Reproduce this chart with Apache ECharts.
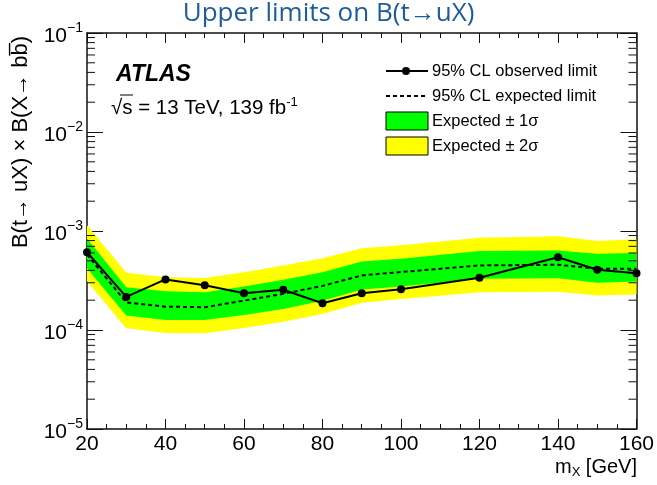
<!DOCTYPE html>
<html>
<head>
<meta charset="utf-8">
<script src="https://cdn.jsdelivr.net/npm/echarts@6/dist/echarts.min.js"></script>
<style>
  html, body { margin: 0; padding: 0; background: #fff; }
  #chart { width: 657px; height: 485px; }
</style>
</head>
<body>
<div id="chart"></div>
<script>
// Mass points (GeV)
const masses = [20, 30, 40, 50, 60, 70, 80, 90, 100, 120, 140, 150, 160];
// 95% CL observed limit
const observed = [6.1e-4, 2.16e-4, 3.24e-4, 2.83e-4, 2.35e-4, 2.55e-4, 1.86e-4, 2.35e-4, 2.58e-4, 3.37e-4, 5.44e-4, 4.06e-4, 3.75e-4];
// 95% CL expected limit
const expected = [5.8e-4, 1.9e-4, 1.72e-4, 1.70e-4, 1.98e-4, 2.32e-4, 2.79e-4, 3.56e-4, 3.85e-4, 4.49e-4, 4.56e-4, 4.16e-4, 4.16e-4];
// Expected +/- 1 sigma band
const plus1 = [8.4e-4, 2.70e-4, 2.46e-4, 2.40e-4, 2.75e-4, 3.21e-4, 3.84e-4, 4.93e-4, 5.25e-4, 6.27e-4, 6.37e-4, 5.90e-4, 5.98e-4];
const minus1 = [4.2e-4, 1.40e-4, 1.26e-4, 1.26e-4, 1.42e-4, 1.63e-4, 1.98e-4, 2.56e-4, 2.75e-4, 3.29e-4, 3.34e-4, 3.00e-4, 3.09e-4];
// Expected +/- 2 sigma band
const plus2 = [1.14e-3, 3.79e-4, 3.41e-4, 3.36e-4, 3.84e-4, 4.49e-4, 5.32e-4, 6.68e-4, 7.17e-4, 8.57e-4, 8.83e-4, 7.92e-4, 8.24e-4];
const minus2 = [3.1e-4, 1.04e-4, 9.33e-5, 9.25e-5, 1.05e-4, 1.21e-4, 1.45e-4, 1.89e-4, 2.06e-4, 2.40e-4, 2.44e-4, 2.23e-4, 2.28e-4];

// Axis ranges and ticks
const xMin = 20, xMax = 160, xStep = 20;
const yMin = 1e-5, yMax = 1e-1;
const yMinorTicks = [];
for (let e = -5; e < -1; e++) {
  for (let m = 2; m <= 9; m++) yMinorTicks.push(m * Math.pow(10, e));
}

const FONT = '"Liberation Sans", Arial, Helvetica, sans-serif';
const AXIS_COLOR = '#111';

const chart = echarts.init(document.getElementById('chart'), null, { renderer: 'canvas' });

function bandItem(upper, lower, color) {
  return function (params, api) {
    if (params.dataIndex !== 0) return null;
    const pts = [];
    for (let i = 0; i < masses.length; i++) pts.push(api.coord([masses[i], upper[i]]));
    for (let i = masses.length - 1; i >= 0; i--) pts.push(api.coord([masses[i], lower[i]]));
    return {
      type: 'polygon',
      shape: { points: pts },
      style: { fill: color, stroke: null }
    };
  };
}

function supExp(v) {
  const e = Math.round(Math.log10(v));
  return '{b|10}{s|' + (e < 0 ? '\u2212' + (-e) : e) + '}';
}

const yLabelRich = {
  b: { fontFamily: FONT, fontSize: 21, color: '#000', padding: [6, 0, 0, 0] },
  s: { fontFamily: FONT, fontSize: 14, color: '#000', padding: [0, 0, 9, 0] }
};

const option = {
  animation: false,
  backgroundColor: '#fff',
  grid: { left: 87, right: 20, top: 33, bottom: 56, containLabel: false, show: false },
  xAxis: [
    {
      type: 'value', min: xMin, max: xMax, interval: xStep, position: 'bottom',
      axisLine: { show: true, lineStyle: { color: AXIS_COLOR, width: 1.5 } },
      axisTick: { show: true, inside: true, length: 10, lineStyle: { color: AXIS_COLOR, width: 1 } },
      minorTick: { show: true, splitNumber: 4, length: 5, lineStyle: { color: AXIS_COLOR, width: 1 } },
      splitLine: { show: false },
      axisLabel: { fontFamily: FONT, fontSize: 21, color: '#000', margin: 5 }
    },
    {
      type: 'value', min: xMin, max: xMax, interval: xStep, position: 'top',
      axisLine: { show: true, lineStyle: { color: AXIS_COLOR, width: 1.5 } },
      axisTick: { show: true, inside: true, length: 10, lineStyle: { color: AXIS_COLOR, width: 1 } },
      minorTick: { show: true, splitNumber: 4, length: 5, lineStyle: { color: AXIS_COLOR, width: 1 } },
      splitLine: { show: false },
      axisLabel: { show: false }
    }
  ],
  yAxis: [
    {
      type: 'log', logBase: 10, min: yMin, max: yMax, position: 'left',
      axisLine: { show: true, lineStyle: { color: AXIS_COLOR, width: 1.5 } },
      axisTick: { show: true, inside: true, length: 16, lineStyle: { color: AXIS_COLOR, width: 1 } },
      splitLine: { show: false },
      axisLabel: { formatter: supExp, rich: yLabelRich, margin: 4 }
    },
    {
      type: 'log', logBase: 10, min: yMin, max: yMax, position: 'right',
      axisLine: { show: true, lineStyle: { color: AXIS_COLOR, width: 1.5 } },
      axisTick: { show: true, inside: true, length: 16, lineStyle: { color: AXIS_COLOR, width: 1 } },
      splitLine: { show: false },
      axisLabel: { show: false }
    }
  ],
  series: [
    {
      name: 'Expected \u00b1 2\u03c3', type: 'custom', z: 1,
      renderItem: bandItem(plus2, minus2, '#ffff00'),
      data: masses.map((m, i) => [m, minus2[i], plus2[i]]),
      encode: { x: 0, y: [1, 2] }, silent: true
    },
    {
      name: 'Expected \u00b1 1\u03c3', type: 'custom', z: 2,
      renderItem: bandItem(plus1, minus1, '#00ff00'),
      data: masses.map((m, i) => [m, minus1[i], plus1[i]]),
      encode: { x: 0, y: [1, 2] }, silent: true
    },
    {
      // minor ticks of the log axis at 2..9 x 10^n, on both vertical frame edges
      name: 'yMinor', type: 'custom', z: 5, silent: true,
      renderItem: function (params, api) {
        const cs = params.coordSys;
        const y = api.coord([xMin, api.value(0)])[1];
        const len = 8;
        return {
          type: 'group',
          children: [
            { type: 'line', shape: { x1: cs.x, y1: y, x2: cs.x + len, y2: y }, style: { stroke: AXIS_COLOR, lineWidth: 1 } },
            { type: 'line', shape: { x1: cs.x + cs.width - len, y1: y, x2: cs.x + cs.width, y2: y }, style: { stroke: AXIS_COLOR, lineWidth: 1 } }
          ]
        };
      },
      data: yMinorTicks.map(v => [v]),
      encode: { y: 0 }
    },
    {
      name: '95% CL expected limit', type: 'line', z: 3,
      data: masses.map((m, i) => [m, expected[i]]),
      showSymbol: false, symbol: 'none',
      lineStyle: { color: '#000', width: 2, type: [4, 3] }
    },
    {
      name: '95% CL observed limit', type: 'line', z: 4,
      data: masses.map((m, i) => [m, observed[i]]),
      symbol: 'circle', symbolSize: 8,
      itemStyle: { color: '#000' },
      lineStyle: { color: '#000', width: 2 }
    }
  ],
  graphic: [
    {
      type: 'text', left: 'center', top: 1,
      style: { text: 'Upper limits on B(t\u2192uX)', font: '400 26px "Open Sans", sans-serif', fill: '#1d5c9c' }
    },
    {
      type: 'text', x: 21, y: 36, rotation: Math.PI / 2,
      style: {
        text: 'B(t\u2192 uX) \u00d7 B(X\u2192 bb\u0305)', font: '22px ' + FONT, fill: '#000',
        align: 'right', verticalAlign: 'middle'
      }
    },
    {
      type: 'text', x: 637, y: 467,
      style: {
        text: '{m|m}{sub|X}{m| [GeV]}', align: 'right', verticalAlign: 'middle',
        rich: {
          m: { fontFamily: FONT, fontSize: 20, fill: '#000' },
          sub: { fontFamily: FONT, fontSize: 13, fill: '#000', padding: [10, 0, 0, 0] }
        }
      }
    },
    {
      type: 'text', x: 116, y: 75,
      style: { text: 'ATLAS', font: 'italic bold 23px ' + FONT, fill: '#000', verticalAlign: 'middle' }
    },
    {
      type: 'text', x: 111, y: 106,
      style: {
        text: '{t|\u221As = 13 TeV, 139 fb}{s|-1}', verticalAlign: 'middle',
        rich: {
          t: { fontFamily: FONT, fontSize: 20.5, fill: '#000', padding: [5, 0, 0, 0] },
          s: { fontFamily: FONT, fontSize: 13, fill: '#000', padding: [0, 0, 8, 0] }
        }
      }
    },
    // overline of the square root
    { type: 'line', shape: { x1: 120, y1: 95, x2: 133, y2: 95 }, style: { stroke: '#000', lineWidth: 1 } },
    // legend
    { type: 'line', shape: { x1: 386, y1: 71, x2: 428, y2: 71 }, style: { stroke: '#000', lineWidth: 2 } },
    { type: 'circle', shape: { cx: 406, cy: 71, r: 4 }, style: { fill: '#000' } },
    { type: 'text', x: 432, y: 71, style: { text: '95% CL observed limit', font: '16.5px ' + FONT, fill: '#000', verticalAlign: 'middle' } },
    { type: 'line', shape: { x1: 386, y1: 96, x2: 428, y2: 96 }, style: { stroke: '#000', lineWidth: 2, lineDash: [4, 3] } },
    { type: 'text', x: 432, y: 96, style: { text: '95% CL expected limit', font: '16.5px ' + FONT, fill: '#000', verticalAlign: 'middle' } },
    { type: 'rect', shape: { x: 386, y: 112, width: 42, height: 18 }, style: { fill: '#00ff00', stroke: '#000', lineWidth: 1 } },
    { type: 'text', x: 432, y: 121, style: { text: 'Expected \u00b1 1\u03c3', font: '16.5px ' + FONT, fill: '#000', verticalAlign: 'middle' } },
    { type: 'rect', shape: { x: 386, y: 137, width: 42, height: 18 }, style: { fill: '#ffff00', stroke: '#000', lineWidth: 1 } },
    { type: 'text', x: 432, y: 146, style: { text: 'Expected \u00b1 2\u03c3', font: '16.5px ' + FONT, fill: '#000', verticalAlign: 'middle' } }
  ]
};

chart.setOption(option);
</script>
</body>
</html>
